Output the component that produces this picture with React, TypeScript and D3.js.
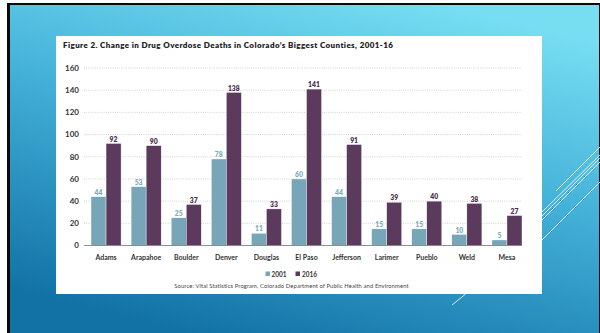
import React from "react";
import * as d3 from "d3";

const counties = ["Adams","Arapahoe","Boulder","Denver","Douglas","El Paso","Jefferson","Larimer","Pueblo","Weld","Mesa"];
const deaths2001 = [44,53,25,78,11,60,44,15,15,10,5];
const deaths2016 = [92,90,37,138,33,141,91,39,40,38,27];
const seriesNames = ["2001","2016"];
const yTicks = [0,20,40,60,80,100,120,140,160];
const title = "Figure 2. Change in Drug Overdose Deaths in Colorado\u2019s Biggest Counties, 2001-16";
const source = "Source: Vital Statistics Program, Colorado Department of Public Health and Environment";

const W = 600, H = 333;
const colors: Record<string, string> = { "2001": "#77a6b9", "2016": "#5c3a5e" };
const labelColors: Record<string, string> = { "2001": "#80aec2", "2016": "#4e2f52" };
const FONT = "Lato, 'Open Sans', sans-serif";

export default function App() {
  const x = d3.scaleBand<string>().domain(counties).range([86, 527]).paddingInner(0.25).paddingOuter(0.125);
  const xs = d3.scaleBand<string>().domain(seriesNames).range([0, x.bandwidth()]).padding(0);
  const y = d3.scaleLinear().domain([0, 160]).range([245.5, 68]);
  const data = counties.map((c, i) => ({ c, v: { "2001": deaths2001[i], "2016": deaths2016[i] } as Record<string, number> }));

  const deco = [
    [556, 191, 600, 147],
    [542, 212, 600, 155],
    [542, 216, 600, 158],
    [542, 220, 600, 162],
    [542, 240, 600, 182],
    [452, 305, 520, 250],
  ];

  return (
    <svg width={W} height={H} style={{ position: "absolute", left: 0, top: 0 }} fontFamily={FONT}>
      <defs>
        <linearGradient id="bg" x1="0.75" y1="0" x2="0.3" y2="1">
          <stop offset="0" stopColor="#77def2" />
          <stop offset="0.45" stopColor="#43b0d8" />
          <stop offset="1" stopColor="#1272a6" />
        </linearGradient>
      </defs>
      <rect x={0} y={0} width={W} height={H} fill="#ffffff" />
      <rect x={7} y={3} width={W - 7} height={H - 3} fill="#0a0a0a" />
      <rect x={10} y={5} width={589} height={H - 5} fill="url(#bg)" />
      {deco.map((d, i) => (
        <line key={i} x1={d[0]} y1={d[1]} x2={d[2]} y2={d[3]} stroke="#ffffff" strokeWidth={0.8} />
      ))}
      <rect x={56} y={36} width={486} height={258} fill="#ffffff" />
      <text x={63} y={48} fontSize={8} fontWeight={800} fill="#222" letterSpacing={0.4}>{title}</text>
      {yTicks.map((t) => (
        <g key={t}>
          {t > 0 && (
            <line x1={84} x2={522} y1={y(t)} y2={y(t)} stroke="#b5b5b5" strokeWidth={0.6} strokeDasharray="1,1.2" />
          )}
          <text x={79} y={y(t) + 2.8} fontSize={8} fontWeight={700} fill="#333" textAnchor="end">{t}</text>
        </g>
      ))}
      {data.map((d) => (
        <g key={d.c} transform={`translate(${x(d.c)},0)`}>
          {seriesNames.map((s) => (
            <g key={s}>
              <rect x={xs(s)} y={y(d.v[s])} width={xs.bandwidth()} height={y(0) - y(d.v[s])} fill={colors[s]} stroke="#ffffff" strokeWidth={0.4} />
              <text x={(xs(s) as number) + xs.bandwidth() / 2} y={y(d.v[s]) - 1.8} fontSize={6.8} fontWeight={800} fill={labelColors[s]} textAnchor="middle">{d.v[s]}</text>
            </g>
          ))}
          <text x={x.bandwidth() / 2} y={260} fontSize={7} fontWeight={700} fill="#333" textAnchor="middle">{d.c}</text>
        </g>
      ))}
      <line x1={84} x2={522} y1={y(0)} y2={y(0)} stroke="#777" strokeWidth={0.8} />
      <g>
        <rect x={265.5} y={271.5} width={4.5} height={4.5} fill={colors["2001"]} />
        <text x={271.5} y={276.5} fontSize={6.5} fontWeight={700} fill="#333">2001</text>
        <rect x={295.5} y={271.5} width={4.5} height={4.5} fill={colors["2016"]} />
        <text x={302} y={276.5} fontSize={6.5} fontWeight={700} fill="#333">2016</text>
      </g>
      <text x={291.5} y={288} fontSize={5.8} fill="#444" textAnchor="middle" letterSpacing={0.12}>{source}</text>
    </svg>
  );
}
